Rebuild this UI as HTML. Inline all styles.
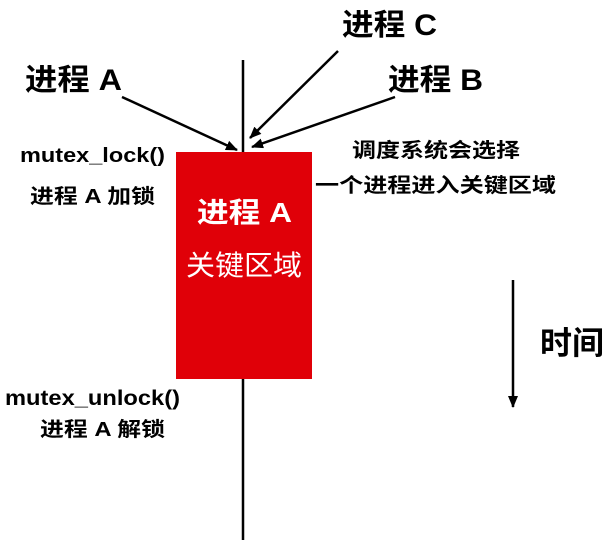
<!DOCTYPE html>
<html><head><meta charset="utf-8"><style>
html,body{margin:0;padding:0;background:#fff;}
svg text{font-family:"Liberation Sans","Noto Sans CJK SC",sans-serif;font-weight:bold;fill:#000;}
</style></head><body>
<svg width="612" height="540" viewBox="0 0 612 540" xmlns="http://www.w3.org/2000/svg">
<defs><marker id="ah" markerWidth="12" markerHeight="10" refX="11" refY="5" orient="auto" markerUnits="userSpaceOnUse"><path d="M0,0 L12,5 L0,10 z" fill="#000"/></marker></defs>
<line x1="243" y1="60" x2="243" y2="540" stroke="#000" stroke-width="2.5"/>
<rect x="176" y="152" width="136" height="227" fill="#e00008"/>
<line x1="122" y1="97" x2="237" y2="150" stroke="#000" stroke-width="2.5" marker-end="url(#ah)"/>
<line x1="338" y1="51" x2="250" y2="138" stroke="#000" stroke-width="2.5" marker-end="url(#ah)"/>
<line x1="395" y1="97" x2="252" y2="147" stroke="#000" stroke-width="2.5" marker-end="url(#ah)"/>
<line x1="513" y1="280" x2="513" y2="407" stroke="#000" stroke-width="2.5" marker-end="url(#ah)"/>
<text x="342" y="35" font-size="30" textLength="95" lengthAdjust="spacingAndGlyphs">进程 C</text>
<text x="25" y="90" font-size="30" textLength="97" lengthAdjust="spacingAndGlyphs">进程 A</text>
<text x="388" y="90" font-size="30" textLength="95" lengthAdjust="spacingAndGlyphs">进程 B</text>
<text x="20" y="162" font-size="20" textLength="145" lengthAdjust="spacingAndGlyphs">mutex_lock()</text>
<text x="30" y="203" font-size="20" textLength="125" lengthAdjust="spacingAndGlyphs">进程 A 加锁</text>
<text x="352" y="157" font-size="20" textLength="168" lengthAdjust="spacingAndGlyphs">调度系统会选择</text>
<text x="315" y="192" font-size="20" textLength="241" lengthAdjust="spacingAndGlyphs">一个进程进入关键区域</text>
<text x="197" y="222" font-size="28" textLength="95" lengthAdjust="spacingAndGlyphs" style="fill:#fff">进程 A</text>
<text x="186" y="275" font-size="28" textLength="116" lengthAdjust="spacingAndGlyphs" style="font-weight:normal;fill:#fff">关键区域</text>
<text x="540" y="354" font-size="32" textLength="64" lengthAdjust="spacingAndGlyphs">时间</text>
<text x="5" y="405" font-size="21" textLength="175" lengthAdjust="spacingAndGlyphs">mutex_unlock()</text>
<text x="40" y="436" font-size="20" textLength="125" lengthAdjust="spacingAndGlyphs">进程 A 解锁</text>
</svg>
</body></html>
